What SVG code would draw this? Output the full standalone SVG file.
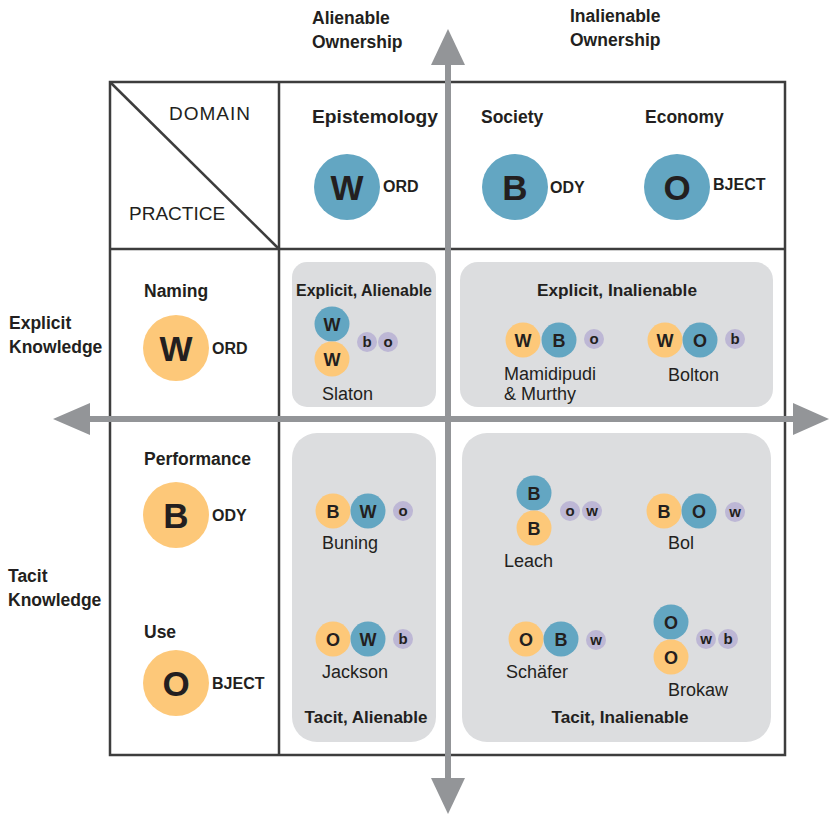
<svg xmlns="http://www.w3.org/2000/svg" width="829" height="815" viewBox="0 0 829 815">
  <style>
    text { font-family: "Liberation Sans", Arial, sans-serif; fill: #231f20; }
    .hd { font-size: 17.5px; font-weight: bold; }
    .dom { font-size: 19px; }
    .big { font-size: 35px; font-weight: bold; text-anchor: middle; }
    .suf { font-size: 16px; font-weight: bold; }
    .mid { font-size: 18px; font-weight: bold; text-anchor: middle; }
    .sm { font-size: 15px; font-weight: bold; text-anchor: middle; }
    .name { font-size: 18px; }
    .qt { font-size: 17px; font-weight: bold; text-anchor: middle; }
    .blue { fill: #63a6c2; }
    .orange { fill: #fdc879; }
    .purple { fill: #bdb7d5; }
    .panel { fill: #dcdddf; }
    .grid { fill: none; stroke: #3d3d3d; stroke-width: 2.5; }
    .axis { stroke: #939598; stroke-width: 6; fill: none; }
    .head { fill: #939598; }
  </style>

  <!-- table frame -->
  <g id="table">
    <rect class="grid" x="110" y="82" width="675" height="673"/>
    <line class="grid" x1="279" y1="82" x2="279" y2="755"/>
    <line class="grid" x1="110" y1="249" x2="785" y2="249"/>
    <line class="grid" x1="110" y1="82" x2="279" y2="249"/>
    <text class="dom" x="169" y="120" letter-spacing="1">DOMAIN</text>
    <text class="dom" x="129" y="220">PRACTICE</text>
  </g>

  <!-- quadrant panels -->
  <g id="panel-explicit-alienable">
    <rect class="panel" x="292" y="262" width="144" height="145" rx="15"/>
    <text class="qt" x="364" y="296" textLength="136" lengthAdjust="spacingAndGlyphs">Explicit, Alienable</text>
  </g>
  <g id="panel-explicit-inalienable">
    <rect class="panel" x="460" y="262" width="313" height="145" rx="18"/>
    <text class="qt" x="617" y="296" textLength="160" lengthAdjust="spacingAndGlyphs">Explicit, Inalienable</text>
  </g>
  <g id="panel-tacit-alienable">
    <rect class="panel" x="292" y="433" width="144" height="309" rx="25"/>
    <text class="qt" x="366" y="723">Tacit, Alienable</text>
  </g>
  <g id="panel-tacit-inalienable">
    <rect class="panel" x="462" y="433" width="309" height="309" rx="25"/>
    <text class="qt" x="620" y="723" textLength="137" lengthAdjust="spacingAndGlyphs">Tacit, Inalienable</text>
  </g>

  <!-- axes -->
  <g id="connectors">
    <line class="axis" x1="448" y1="60" x2="448" y2="782"/>
    <polygon class="head" points="448,29 431,65 465,65"/>
    <polygon class="head" points="448,814 431,778 465,778"/>
    <line class="axis" x1="86" y1="419" x2="798" y2="419"/>
    <polygon class="head" points="53,419 90,403 90,435"/>
    <polygon class="head" points="829,419 793,403 793,435"/>
  </g>

  <!-- axis labels -->
  <g id="label-alienable">
    <text class="hd" x="312" y="24">Alienable</text>
    <text class="hd" x="312" y="48">Ownership</text>
  </g>
  <g id="label-inalienable">
    <text class="hd" x="570" y="22">Inalienable</text>
    <text class="hd" x="570" y="46">Ownership</text>
  </g>
  <g id="label-explicit">
    <text class="hd" x="9" y="329">Explicit</text>
    <text class="hd" x="9" y="353">Knowledge</text>
  </g>
  <g id="label-tacit">
    <text class="hd" x="8" y="582">Tacit</text>
    <text class="hd" x="8" y="606">Knowledge</text>
  </g>

  <!-- domains -->
  <g id="domain-epistemology">
    <text class="hd" x="312" y="123" textLength="126" lengthAdjust="spacingAndGlyphs">Epistemology</text>
    <circle class="blue" cx="347" cy="187" r="33"/>
    <text class="big" x="347" y="200">W</text>
    <text class="suf" x="383" y="192">ORD</text>
  </g>
  <g id="domain-society">
    <text class="hd" x="481" y="123">Society</text>
    <circle class="blue" cx="515" cy="187" r="33"/>
    <text class="big" x="515" y="200">B</text>
    <text class="suf" x="550" y="193">ODY</text>
  </g>
  <g id="domain-economy">
    <text class="hd" x="645" y="123">Economy</text>
    <circle class="blue" cx="677" cy="187" r="33"/>
    <text class="big" x="677" y="200">O</text>
    <text class="suf" x="713" y="190">BJECT</text>
  </g>

  <!-- practices -->
  <g id="practice-naming">
    <text class="hd" x="144" y="297">Naming</text>
    <circle class="orange" cx="176" cy="348" r="33"/>
    <text class="big" x="176" y="361">W</text>
    <text class="suf" x="212" y="354">ORD</text>
  </g>
  <g id="practice-performance">
    <text class="hd" x="144" y="465">Performance</text>
    <circle class="orange" cx="176" cy="515" r="33"/>
    <text class="big" x="176" y="528">B</text>
    <text class="suf" x="212" y="521">ODY</text>
  </g>
  <g id="practice-use">
    <text class="hd" x="144" y="638">Use</text>
    <circle class="orange" cx="176" cy="683" r="33"/>
    <text class="big" x="176" y="696">O</text>
    <text class="suf" x="212" y="689">BJECT</text>
  </g>

  <!-- authors -->
  <g id="slaton">
    <circle class="blue" cx="332" cy="324" r="17.5"/>
    <text class="mid" x="332" y="331">W</text>
    <circle class="orange" cx="332" cy="359" r="17.5"/>
    <text class="mid" x="332" y="366">W</text>
    <circle class="purple" cx="367" cy="342" r="10"/>
    <text class="sm" x="367" y="347">b</text>
    <circle class="purple" cx="388" cy="342" r="10"/>
    <text class="sm" x="388" y="347">o</text>
    <text class="name" x="322" y="400">Slaton</text>
  </g>
  <g id="mamidipudi-murthy">
    <circle class="orange" cx="523" cy="340" r="17.5"/>
    <text class="mid" x="523" y="347">W</text>
    <circle class="blue" cx="559" cy="340" r="17.5"/>
    <text class="mid" x="559" y="347">B</text>
    <circle class="purple" cx="594" cy="339" r="10"/>
    <text class="sm" x="594" y="344">o</text>
    <text class="name" x="504" y="380" font-size="17.5">Mamidipudi</text>
    <text class="name" x="504" y="400" font-size="17.5">&amp; Murthy</text>
  </g>
  <g id="bolton">
    <circle class="orange" cx="665" cy="340" r="17.5"/>
    <text class="mid" x="665" y="347">W</text>
    <circle class="blue" cx="700" cy="340" r="17.5"/>
    <text class="mid" x="700" y="347">O</text>
    <circle class="purple" cx="735" cy="339" r="10"/>
    <text class="sm" x="735" y="344">b</text>
    <text class="name" x="668" y="381">Bolton</text>
  </g>
  <g id="buning">
    <circle class="orange" cx="333" cy="511" r="17.5"/>
    <text class="mid" x="333" y="518">B</text>
    <circle class="blue" cx="368" cy="511" r="17.5"/>
    <text class="mid" x="368" y="518">W</text>
    <circle class="purple" cx="403" cy="511" r="10"/>
    <text class="sm" x="403" y="516">o</text>
    <text class="name" x="322" y="549">Buning</text>
  </g>
  <g id="jackson">
    <circle class="orange" cx="333" cy="639" r="17.5"/>
    <text class="mid" x="333" y="646">O</text>
    <circle class="blue" cx="368" cy="639" r="17.5"/>
    <text class="mid" x="368" y="646">W</text>
    <circle class="purple" cx="403" cy="639" r="10"/>
    <text class="sm" x="403" y="644">b</text>
    <text class="name" x="322" y="678">Jackson</text>
  </g>
  <g id="leach">
    <circle class="blue" cx="534" cy="493" r="17.5"/>
    <text class="mid" x="534" y="500">B</text>
    <circle class="orange" cx="534" cy="528" r="17.5"/>
    <text class="mid" x="534" y="535">B</text>
    <circle class="purple" cx="570" cy="511" r="10"/>
    <text class="sm" x="570" y="516">o</text>
    <circle class="purple" cx="592" cy="511" r="10"/>
    <text class="sm" x="592" y="516">w</text>
    <text class="name" x="504" y="567">Leach</text>
  </g>
  <g id="bol">
    <circle class="orange" cx="664" cy="511" r="17.5"/>
    <text class="mid" x="664" y="518">B</text>
    <circle class="blue" cx="699" cy="511" r="17.5"/>
    <text class="mid" x="699" y="518">O</text>
    <circle class="purple" cx="735" cy="512" r="10"/>
    <text class="sm" x="735" y="517">w</text>
    <text class="name" x="668" y="549">Bol</text>
  </g>
  <g id="schaefer">
    <circle class="orange" cx="526" cy="639" r="17.5"/>
    <text class="mid" x="526" y="646">O</text>
    <circle class="blue" cx="561" cy="639" r="17.5"/>
    <text class="mid" x="561" y="646">B</text>
    <circle class="purple" cx="596" cy="640" r="10"/>
    <text class="sm" x="596" y="645">w</text>
    <text class="name" x="506" y="678">Schäfer</text>
  </g>
  <g id="brokaw">
    <circle class="blue" cx="671" cy="622" r="17.5"/>
    <text class="mid" x="671" y="629">O</text>
    <circle class="orange" cx="671" cy="657" r="17.5"/>
    <text class="mid" x="671" y="664">O</text>
    <circle class="purple" cx="706" cy="639" r="10"/>
    <text class="sm" x="706" y="644">w</text>
    <circle class="purple" cx="728" cy="639" r="10"/>
    <text class="sm" x="728" y="644">b</text>
    <text class="name" x="668" y="696">Brokaw</text>
  </g>
</svg>
